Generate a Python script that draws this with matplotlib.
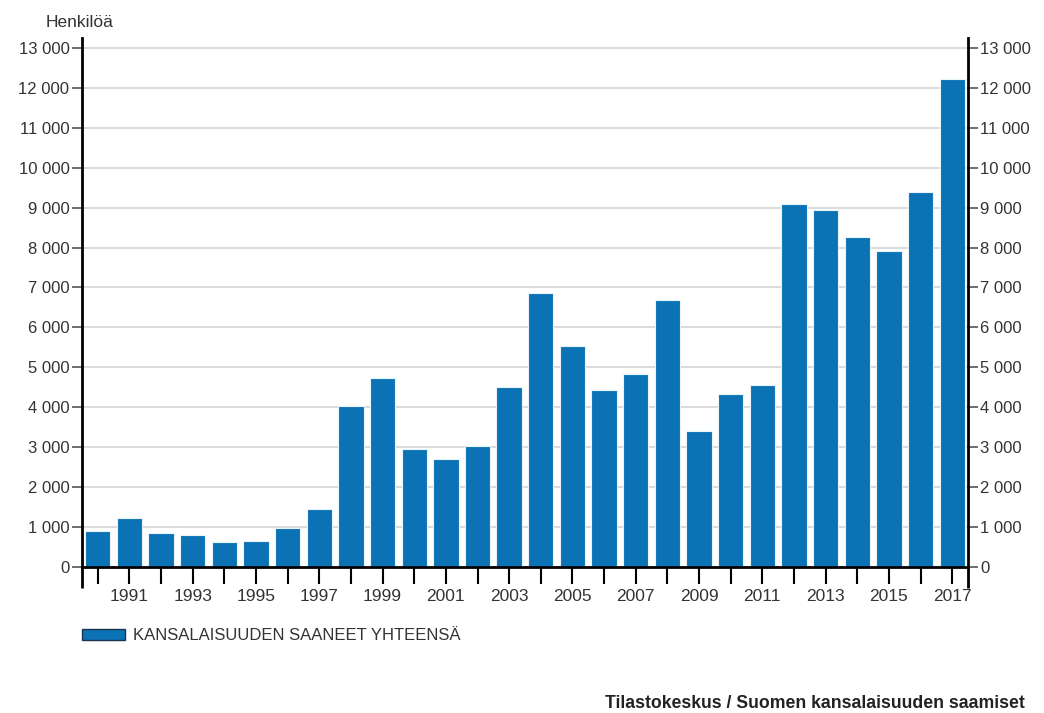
import numpy as np
import matplotlib.pyplot as plt
from matplotlib.ticker import FuncFormatter

plt.rcParams['font.family'] = ['Liberation Sans', 'DejaVu Sans']

# data
years = list(range(1990, 2018))
values = [900, 1230, 850, 800, 630, 650, 980, 1450, 4030, 4730,
          2960, 2700, 3030, 4510, 6870, 5540, 4440, 4840, 6690, 3410,
          4340, 4560, 9090, 8940, 8270, 7910, 9380, 12220]
yTicks = list(range(0, 14000, 1000))
seriesLabel = 'KANSALAISUUDEN SAANEET YHTEENSÄ'

barColor = '#0a72b5'
textColor = '#333333'

fig = plt.figure(figsize=(10.44, 7.13), dpi=100)
ax = fig.add_axes([0.0785, 0.2048, 0.8487, 0.742])

x = np.arange(len(years))
ax.bar(x, values, width=0.8, color=barColor, edgecolor='#e8f4fa', linewidth=0.8,
       label=seriesLabel, zorder=2)

ax.set_xlim(-0.5, len(years) - 0.5)
ax.set_ylim(0, 13250)
ax.set_yticks(yTicks)
ax.yaxis.set_major_formatter(FuncFormatter(lambda v, p: f"{int(v):,}".replace(',', ' ')))
ax.grid(axis='y', color='#d4d4d4', linewidth=1.2, zorder=0)
ax.set_axisbelow(True)

ax.set_xticks(x)
ax.set_xticklabels([str(y) if y % 2 == 1 else '' for y in years])
ax.set_xticks([-0.5, len(years) - 0.5], minor=True)

ax.spines['top'].set_visible(False)
for s in ['left', 'right', 'bottom']:
    ax.spines[s].set_color('black')
    ax.spines[s].set_linewidth(2)
    ax.spines[s].set_zorder(4)

ax.tick_params(axis='y', which='major', left=True, right=True, labelleft=True, labelright=True,
               direction='out', length=7, width=1.2, color='#555555',
               labelsize=12, labelcolor=textColor, pad=2)
ax.tick_params(axis='x', which='major', direction='out', length=12, width=1.5,
               color='black', labelsize=12.5, labelcolor=textColor, pad=4)
ax.tick_params(axis='x', which='minor', direction='out', length=15, width=2, color='black')

fig.text(0.044, 0.958, 'Henkilöä', fontsize=12.5, color=textColor, ha='left', va='bottom')

fig.legend(loc='upper left', bbox_to_anchor=(0.064, 0.14), frameon=False,
           fontsize=12, handlelength=2.6, handleheight=0.7, handletextpad=0.45,
           labelcolor=textColor)
leg = fig.legends[0]
for h in leg.legend_handles:
    h.set_edgecolor('#1a3550')
    h.set_linewidth(1)

fig.text(0.982, 0.002, 'Tilastokeskus / Suomen kansalaisuuden saamiset', fontsize=12.7,
         fontweight='bold', color='#222222', ha='right', va='bottom')

fig.savefig('out.png', dpi=100, facecolor='white')
